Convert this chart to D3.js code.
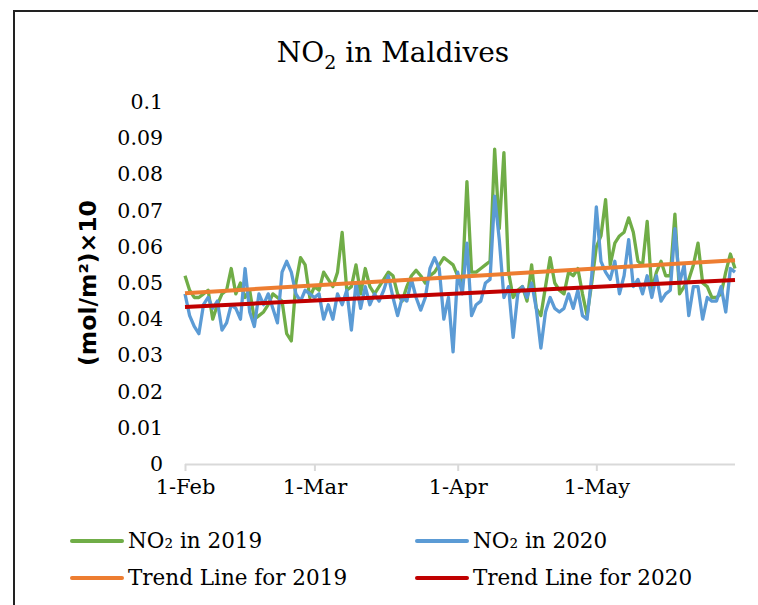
<!DOCTYPE html>
<html><head><meta charset="utf-8">
<script src="https://cdn.jsdelivr.net/npm/d3@7"></script>
<style>body{margin:0;background:#fff}svg{display:block}</style>
</head><body>
<svg id="c" width="758" height="605"></svg>
<script>
const startDate = "2019-02-01";
const endDate = "2019-05-31";
const no2_2019 = [0.052,0.048,0.046,0.046,0.047,0.048,0.040,0.044,0.047,0.048,
0.054,0.047,0.050,0.046,0.048,0.040,0.041,0.042,0.044,0.047,
0.046,0.045,0.036,0.034,0.050,0.057,0.055,0.046,0.049,0.048,
0.053,0.051,0.049,0.053,0.064,0.048,0.049,0.055,0.047,0.054,
0.049,0.047,0.049,0.051,0.053,0.052,0.047,0.045,0.049,0.052,
0.0535,0.052,0.050,0.052,0.053,0.055,0.057,0.056,0.055,0.052,
0.050,0.078,0.053,0.053,0.054,0.055,0.056,0.087,0.065,0.086,
0.053,0.046,0.048,0.049,0.045,0.055,0.043,0.041,0.049,0.057,
0.050,0.048,0.047,0.053,0.052,0.054,0.047,0.041,0.050,0.060,
0.063,0.073,0.055,0.061,0.063,0.064,0.068,0.064,0.056,0.055,
0.067,0.048,0.053,0.056,0.052,0.052,0.069,0.047,0.049,0.051,
0.055,0.061,0.050,0.049,0.046,0.046,0.047,0.053,0.058,0.054];
const no2_2020 = [0.047,0.041,0.038,0.036,0.044,0.046,0.043,0.045,0.037,0.039,
0.044,0.043,0.040,0.054,0.042,0.038,0.047,0.044,0.047,0.043,
0.039,0.053,0.056,0.053,0.047,0.045,0.048,0.047,0.046,0.047,
0.040,0.044,0.040,0.047,0.044,0.048,0.037,0.050,0.043,0.049,
0.044,0.047,0.045,0.048,0.052,0.046,0.041,0.046,0.045,0.051,
0.046,0.0425,0.046,0.054,0.057,0.054,0.040,0.046,0.031,0.053,
0.047,0.061,0.041,0.044,0.045,0.050,0.051,0.074,0.062,0.046,
0.049,0.035,0.047,0.049,0.046,0.050,0.043,0.032,0.042,0.046,
0.043,0.042,0.043,0.047,0.043,0.048,0.041,0.040,0.052,0.071,
0.056,0.053,0.051,0.056,0.047,0.052,0.062,0.049,0.051,0.047,
0.052,0.046,0.052,0.045,0.047,0.048,0.065,0.050,0.055,0.041,
0.049,0.049,0.040,0.046,0.045,0.045,0.049,0.042,0.054,0.053];
const trend2019 = [0.0472, 0.0563];
const trend2020 = [0.0434, 0.0508];
const yTicks = [0,0.01,0.02,0.03,0.04,0.05,0.06,0.07,0.08,0.09,0.1];
const xTickDates = ["2019-02-01","2019-03-01","2019-04-01","2019-05-01"];
const xTickLabels = ["1-Feb","1-Mar","1-Apr","1-May"];
const legendItems = [
  {label:"NO₂ in 2019", color:"#70AD47"},
  {label:"NO₂ in 2020", color:"#5B9BD5"},
  {label:"Trend Line for 2019", color:"#ED7D31"},
  {label:"Trend Line for 2020", color:"#C00000"}
];

const parse = d3.timeParse("%Y-%m-%d");
const t0 = parse(startDate), t1 = parse(endDate);
const svg = d3.select("#c");
const serif = "'DejaVu Serif', serif";

// border
svg.append("path").attr("d","M14,612 L14,11 L770,11").attr("fill","none").attr("stroke","#222").attr("stroke-width",2);

const x = d3.scaleTime().domain([t0,t1]).range([185,735]);
const y = d3.scaleLinear().domain([0,0.1]).range([464,102]);

// title
const title = svg.append("text").attr("x",393).attr("y",62).attr("text-anchor","middle")
  .attr("font-family",serif).attr("font-size",28).attr("fill","#000");
title.append("tspan").text("NO");
title.append("tspan").text("2").attr("font-size",19).attr("dy",7);
title.append("tspan").text(" in Maldives").attr("dy",-7);

// y axis labels
const yAxis = d3.axisLeft(y).tickValues(yTicks).tickSize(0).tickPadding(0).tickFormat(d=>d3.format("~g")(+d.toFixed(2)));
const gy = svg.append("g").attr("transform","translate(163,0)").call(yAxis);
gy.select(".domain").remove();
gy.selectAll("text").attr("font-family",serif).attr("font-size",20.5).attr("fill","#000");

// x axis
const xAxis = d3.axisBottom(x).tickValues(xTickDates.map(parse)).tickSize(7).tickPadding(8)
  .tickFormat((d,i)=>xTickLabels[i]);
const gx = svg.append("g").attr("transform","translate(0,464)").call(xAxis);
gx.select(".domain").attr("d","M185,0.5H735").attr("stroke","#d9d9d9").attr("stroke-width",2);
gx.selectAll(".tick line").attr("stroke","#d9d9d9").attr("stroke-width",2);
gx.selectAll("text").attr("font-family",serif).attr("font-size",21).attr("fill","#000");

// y label
svg.append("text").attr("transform","translate(96,283) rotate(-90)").attr("text-anchor","middle")
  .attr("font-family","'DejaVu Sans', sans-serif").attr("font-weight","bold").attr("font-size",23.5).attr("fill","#000")
  .text("(mol/m²)×10");

// series
const day = i => d3.timeDay.offset(t0, i);
const line = d3.line().x((d,i)=>x(day(i))).y(d=>y(d)).curve(d3.curveLinear);
const plot = svg.append("g");
plot.append("path").datum(no2_2019).attr("d",line).attr("fill","none").attr("stroke","#70AD47").attr("stroke-width",3.3).attr("stroke-linejoin","round");
plot.append("path").datum(no2_2020).attr("d",line).attr("fill","none").attr("stroke","#5B9BD5").attr("stroke-width",3.3).attr("stroke-linejoin","round");
const tl = d3.line().x((d,i)=>x(i===0?t0:t1)).y(d=>y(d));
plot.append("path").datum(trend2019).attr("d",tl).attr("fill","none").attr("stroke","#ED7D31").attr("stroke-width",4);
plot.append("path").datum(trend2020).attr("d",tl).attr("fill","none").attr("stroke","#C00000").attr("stroke-width",4);

// legend
const legPos = [[72,541],[417,541],[72,578],[417,578]];
legendItems.forEach((it,i)=>{
  const [lx,ly] = legPos[i];
  svg.append("line").attr("x1",lx).attr("x2",lx+50).attr("y1",ly).attr("y2",ly)
    .attr("stroke",it.color).attr("stroke-width",4).attr("stroke-linecap","round");
  svg.append("text").attr("x",lx+56).attr("y",ly+7).attr("font-family",serif).attr("font-size",21.5).attr("fill","#000").text(it.label);
});
</script>
</body></html>
